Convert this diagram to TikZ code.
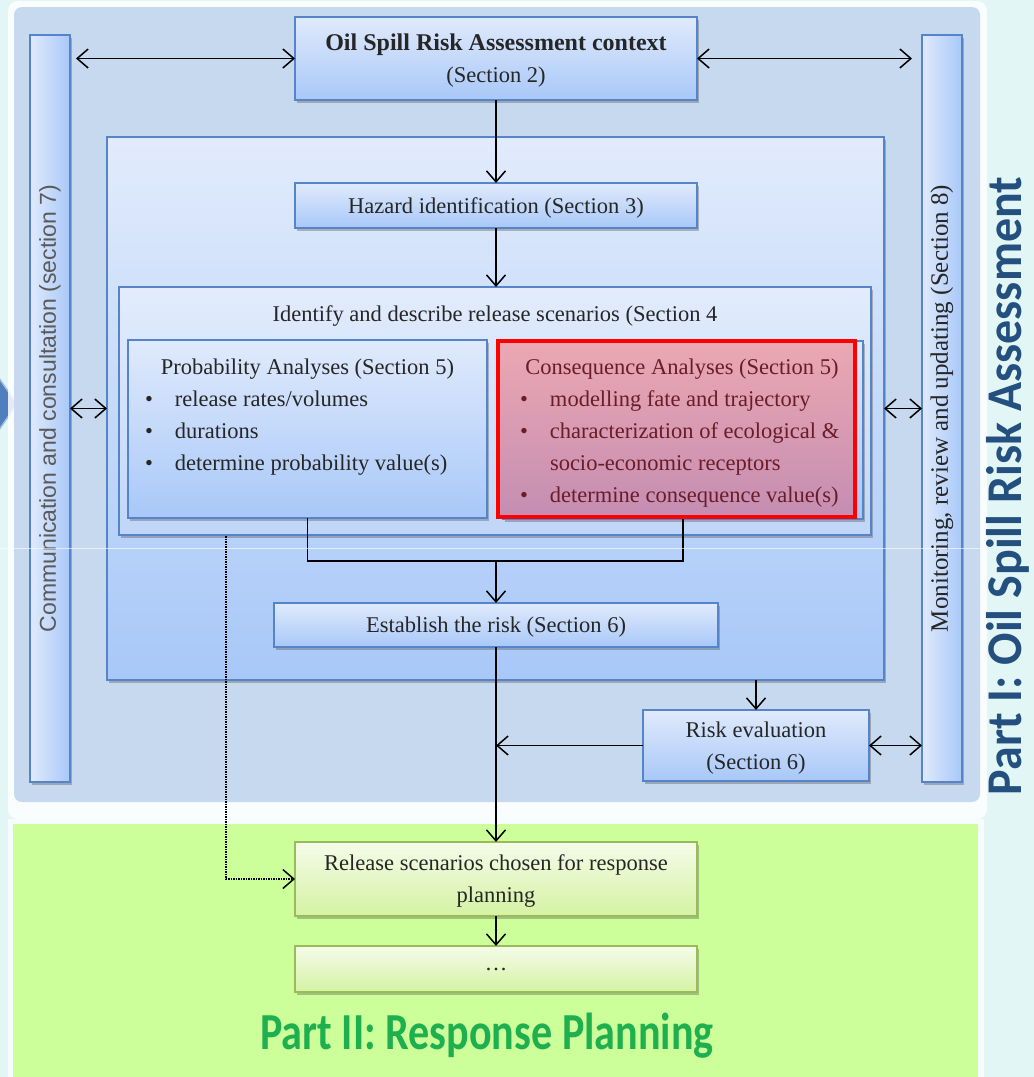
\documentclass[tikz,border=0pt]{standalone}
\usepackage{fontspec}
\setmainfont{Liberation Serif}
\setsansfont{Liberation Sans}
\newfontfamily\headfont{Carlito}
\usetikzlibrary{arrows.meta,shadows,calc}

\definecolor{pagebg}{HTML}{E3F6F6}
\definecolor{partone}{HTML}{C6D9EE}
\definecolor{parttwo}{HTML}{CCFF99}
\definecolor{boxedge}{HTML}{5585C8}
\definecolor{boxtop}{HTML}{E0EAFC}
\definecolor{boxbot}{HTML}{A8C8F8}
\definecolor{reltop}{HTML}{E2ECFC}
\definecolor{relbot}{HTML}{C0D6F8}
\definecolor{contop}{HTML}{ECA8B2}
\definecolor{conbot}{HTML}{C48DB2}
\definecolor{context}{HTML}{6A1C28}
\definecolor{grnedge}{HTML}{9BBB59}
\definecolor{grntop}{HTML}{F5FCEA}
\definecolor{grnbot}{HTML}{D4F2A2}
\definecolor{txt}{HTML}{262626}
\definecolor{barsans}{HTML}{5A5A5A}
\definecolor{titleblue}{HTML}{24507F}
\definecolor{titlegreen}{HTML}{1EAF4E}
\definecolor{chevron}{HTML}{4F7FBD}

\newcommand\bulletline[1]{\makebox[30pt][l]{\textbullet}#1\\}

\tikzset{
  shade/.style={drop shadow={shadow xshift=2pt,shadow yshift=-2.5pt,opacity=0.35,fill=black!70}},
  bluebox/.style={draw=boxedge,line width=1.2pt,top color=boxtop,bottom color=boxbot,
    inner sep=0pt,outer sep=0pt,shade,text=txt,align=center,text depth=0pt,
    font=\fontsize{22.5}{32}\selectfont},
  greenbox/.style={bluebox,draw=grnedge,top color=grntop,bottom color=grnbot},
  sidebar/.style={draw=boxedge,line width=1.2pt,left color=boxtop,right color=boxbot,
    inner sep=0pt,outer sep=0pt,shade,minimum width=40pt,minimum height=747pt},
  plain/.style={inner sep=0pt,outer sep=0pt,text=txt,font=\fontsize{22.5}{32}\selectfont},
  arr/.style={line width=1.5pt,-{Straight Barb[length=11pt,width=19pt]}},
  darr/.style={line width=1.5pt,{Straight Barb[length=11pt,width=19pt]}-{Straight Barb[length=11pt,width=19pt]}},
  link/.style={line width=1.5pt}
}

\begin{document}
\begin{tikzpicture}[x=1pt,y=-1pt]
\useasboundingbox (0,0) rectangle (1034,1077);
\fill[pagebg] (0,0) rectangle (1034,1077);

% chevron peeking in at the left margin
\fill[chevron,draw=chevron!55!white,line width=1.5pt] (-4,374) -- (17,404) -- (-4,434) -- cycle;

% part panels
\fill[white,opacity=0.85,rounded corners=10pt] (8,1) rectangle (987,819);
\fill[partone,rounded corners=8pt] (14,7) rectangle (980,802);
\fill[white,opacity=0.7] (8,819) rectangle (984,1077);
\fill[parttwo] (13,824) rectangle (978,1077);

% side bars
\node[sidebar] (comm) at (50,408.5) {};
\node[plain,rotate=90,text=barsans,font=\sffamily\fontsize{23}{24}\selectfont] (commtxt) at (comm.center)
  {Communication and consultation (section 7)};
\node[sidebar] (mon) at (942,408.5) {};
\node[plain,rotate=90,font=\fontsize{25}{26}\selectfont] (montxt) at (mon.center)
  {Monitoring, review and updating (Section 8)};

% context box
\node[bluebox,minimum width=402pt,minimum height=83pt] (ctx) at (496,58.5)
  {{\fontsize{24}{32}\selectfont\bfseries Oil Spill Risk Assessment context}\\(Section 2)};

% analysis frame
\node[bluebox,minimum width=777pt,minimum height=543pt,top color=boxtop!95!white] (inner) at (495.5,408.5) {};
\node[bluebox,minimum width=402pt,minimum height=45pt] (haz) at (496,205.5) {Hazard identification (Section 3)};

\node[bluebox,top color=reltop,bottom color=relbot,minimum width=752pt,minimum height=248pt] (rel) at (495,411) {};
\node[plain] (reltitle) at (495,316) {Identify and describe release scenarios (Section 4};

% probability analyses
\node[bluebox,minimum width=359pt,minimum height=178pt] (prob) at (307.5,429) {};
\node[plain] (probtitle) at (307.5,369) {Probability Analyses (Section 5)};
\node[plain,anchor=north west,align=left] (problist) at (145,391)
  {\bulletline{release rates/volumes}\bulletline{durations}\bulletline{determine probability value(s)}};

% consequence analyses
\node[bluebox,minimum width=360pt,minimum height=178pt] (consbg) at (683,430) {};
\node[draw=red,line width=4pt,top color=contop,bottom color=conbot,inner sep=0pt,outer sep=0pt,
  minimum width=357pt,minimum height=176pt] (cons) at (676.5,429) {};
\node[plain,text=context] (constitle) at (682,369) {Consequence Analyses (Section 5)};
\node[plain,text=context,anchor=north west,align=left] (conslist) at (520,391)
  {\bulletline{modelling fate and trajectory}\bulletline{characterization of ecological \&}%
   \makebox[30pt][l]{}socio-economic receptors\\\bulletline{determine consequence value(s)}};

% risk
\coordinate (join) at (496,561);
\node[bluebox,minimum width=444pt,minimum height=44pt] (est) at (496,625) {Establish the risk (Section 6)};
\node[bluebox,minimum width=226pt,minimum height=71pt] (reval) at (756,745.5) {Risk evaluation\\(Section 6)};

% response planning
\node[greenbox,minimum width=402pt,minimum height=74pt] (chosen) at (496,879)
  {Release scenarios chosen for response\\planning};
\node[greenbox,minimum width=402pt,minimum height=46pt] (more) at (496,969) {\dots};

% connectors
\draw[darr,shorten <=6pt] (comm.east |- ctx.west) -- (ctx.west);
\draw[darr,shorten >=10pt] (ctx.east) -- (mon.west |- ctx.east);
\draw[darr] (comm.east |- inner.west) -- (inner.west);
\draw[darr] (inner.east) -- (mon.west |- inner.east);
\draw[arr] (ctx.south) -- (haz.north);
\draw[arr] (haz.south) -- (haz.south |- rel.north);
\draw[link] (prob.south) |- (join) -| (consbg.south);
\draw[arr] (join) -- (est.north);
\draw[arr] (est.south) -- (chosen.north);
\draw[arr] (reval.north |- inner.south) -- (reval.north);
\draw[arr] (reval.west) -- (reval.west -| est.south);
\draw[darr] (reval.east) -- (mon.west |- reval.east);
\draw[arr] (chosen.south) -- (more.north);
\coordinate (dotstart) at (226,536);
\draw[line width=1.5pt,densely dotted,-{Straight Barb[length=11pt,width=19pt]}] (dotstart) |- (chosen.west);

% faint seam across the upper panel
\draw[white,opacity=0.6,line width=0.8pt] (0,548) -- (985,548);

% part titles
\node[inner sep=0pt,rotate=90,text=titleblue,font=\headfont\bfseries\fontsize{50}{52}\selectfont] (partI) at (1008,486)
  {\scalebox{0.96}[1]{Part I: Oil Spill Risk Assessment}};
\node[inner sep=0pt,text=titlegreen,font=\headfont\bfseries\fontsize{52}{54}\selectfont] (partII) at (487,1036)
  {\scalebox{0.81}[1]{Part II: Response Planning}};
\end{tikzpicture}
\end{document}
